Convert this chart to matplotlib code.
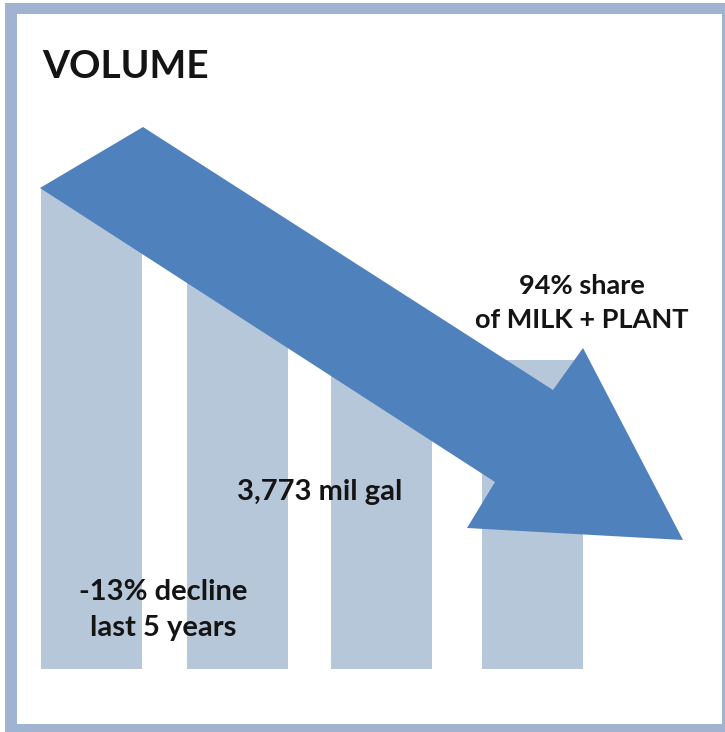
import matplotlib

matplotlib.use('Agg')
import matplotlib.pyplot as plt
from matplotlib.patches import Rectangle, Polygon

# Volume bars (drawn in pixel-like units, baseline at the bottom of the panel)
bar_positions = [92, 238, 382, 533]
bar_heights = [481, 419, 354, 309]
bar_width = 101
baseline = 63

title = "VOLUME"
share_label = "94% share\nof MILK + PLANT"
volume_label = "3,773 mil gal"
decline_label = "-13% decline\nlast 5 years"

frame_color = '#a0b4d2'
bar_color = '#b7c7da'
arrow_color = '#4f81bd'
text_color = '#141414'

W, H = 725, 732
fig = plt.figure(figsize=(W / 100, H / 100), dpi=100)
ax = fig.add_axes([0, 0, 1, 1])
ax.set_xlim(0, W)
ax.set_ylim(0, H)
ax.axis('off')

# panel frame
ax.add_patch(Rectangle((5, -10), W + 20, H - 3 + 10, facecolor=frame_color,
                       edgecolor='none', zorder=0))
ax.add_patch(Rectangle((17, H - 724), 722 - 17, 724 - 14, facecolor='white',
                       edgecolor='none', zorder=0.5))

ax.bar(bar_positions, bar_heights, width=bar_width, bottom=baseline,
       color=bar_color, zorder=1)

# big downward trend arrow (y measured from the top of the panel)
arrow_pts = [(143, 127), (553, 390), (583, 348), (683, 540),
             (467, 528), (495, 482), (40, 188)]
ax.add_patch(Polygon([(x, H - y) for x, y in arrow_pts], closed=True,
                     facecolor=arrow_color, edgecolor='none', zorder=2))

font = 'Lato'
ax.text(42, H - 67, title, fontsize=28, fontweight='bold', family=font,
        color=text_color, va='center', ha='left', zorder=3)
ax.text(582, H - 303, share_label, fontsize=19.5, fontweight='bold', family=font,
        color=text_color, va='center', ha='center', linespacing=1.55, zorder=3)
ax.text(320, H - 492, volume_label, fontsize=21, fontweight='bold', family=font,
        color=text_color, va='center', ha='center', zorder=3)
ax.text(163, H - 610, decline_label, fontsize=21, fontweight='bold', family=font,
        color=text_color, va='center', ha='center', linespacing=1.5, zorder=3)

fig.savefig('out.png', dpi=100)
